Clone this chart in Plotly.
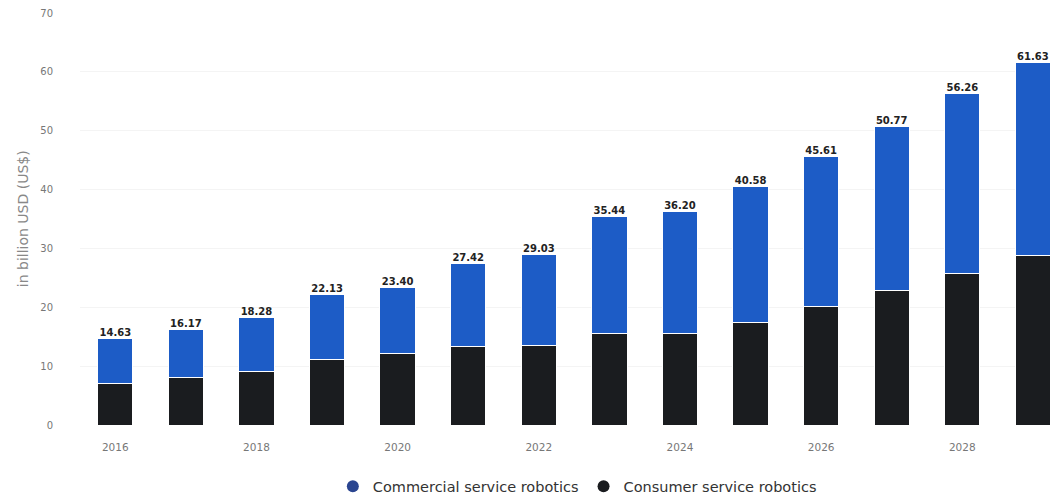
import plotly.graph_objects as go

years = [2016, 2017, 2018, 2019, 2020, 2021, 2022, 2023, 2024, 2025, 2026, 2027, 2028, 2029]
totals = [14.63, 16.17, 18.28, 22.13, 23.40, 27.42, 29.03, 35.44, 36.20, 40.58, 45.61, 50.77, 56.26, 61.63]
consumer = [7.1, 8.0, 9.1, 11.1, 12.1, 13.3, 13.5, 15.6, 15.6, 17.5, 20.1, 22.9, 25.8, 28.8]
commercial = [round(t - c, 2) for t, c in zip(totals, consumer)]
tick_years = [2016, 2018, 2020, 2022, 2024, 2026, 2028]
y_ticks = [0, 10, 20, 30, 40, 50, 60, 70]

BLUE = "#1d5cc6"
BLUE_LEG = "#2a4590"
BLACK = "#1a1c1f"
FONT = "DejaVu Sans, Arial, sans-serif"

fig = go.Figure()
fig.add_bar(x=years, y=consumer, name="Consumer service robotics",
            marker=dict(color=BLACK, line=dict(color="white", width=1)),
            showlegend=False, hoverinfo="skip")
fig.add_bar(x=years, y=commercial, name="Commercial service robotics",
            marker=dict(color=BLUE, line=dict(color="white", width=1)),
            showlegend=False, hoverinfo="skip")
fig.add_scatter(x=years, y=totals, mode="text",
                text=[f"<b>{v:.2f}</b>" for v in totals], textposition="top center",
                textfont=dict(family=FONT, size=10, color="#222"),
                showlegend=False, cliponaxis=False, hoverinfo="skip")
# legend entries with circle markers
fig.add_scatter(x=[None], y=[None], mode="markers", name="Commercial service robotics",
                marker=dict(color=BLUE_LEG, size=12, symbol="circle"))
fig.add_scatter(x=[None], y=[None], mode="markers", name="Consumer service robotics",
                marker=dict(color=BLACK, size=12, symbol="circle"))

fig.update_layout(
    barmode="stack",
    bargap=0.5,
    width=1051, height=493,
    margin=dict(l=72, r=0, t=5, b=76),
    plot_bgcolor="white", paper_bgcolor="white",
    font=dict(family=FONT, size=10, color="#666"),
    legend=dict(orientation="h", x=0.508, xanchor="center",
                yref="container", y=0.030, yanchor="middle",
                traceorder="normal",
                font=dict(family=FONT, size=14.5, color="#333"), itemwidth=30),
    xaxis=dict(range=[2015.5, 2029.37], tickvals=tick_years, ticktext=[str(y) for y in tick_years],
               showgrid=False, zeroline=False, showline=False, ticks="", automargin=False,
               ticklabelstandoff=14,
               tickfont=dict(family=FONT, size=10.5, color="#777")),
    yaxis=dict(range=[0, 70], tickvals=y_ticks, showgrid=True, gridcolor="#f4f4f4",
               zeroline=False, showline=False, ticks="", ticklabelstandoff=26, automargin=False,
               ticklabeloverflow="allow",
               tickfont=dict(family=FONT, size=10, color="#777")),
    annotations=[dict(text="in billion USD (US$)", xref="paper", yref="paper",
                      x=-0.058, y=0.5, xanchor="center", yanchor="middle", textangle=-90,
                      showarrow=False, font=dict(family=FONT, size=14, color="#888"))],
)

fig.write_html("out.html")
